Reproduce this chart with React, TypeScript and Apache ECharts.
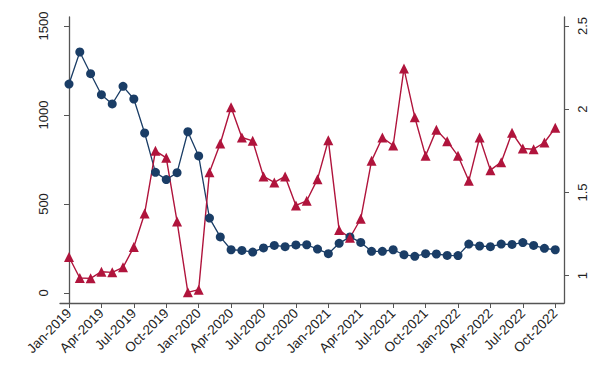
import React, { useEffect, useRef } from "react";
import * as echarts from "echarts";

const months: string[] = [
  "Jan-2019","Feb-2019","Mar-2019","Apr-2019","May-2019","Jun-2019","Jul-2019","Aug-2019","Sep-2019","Oct-2019","Nov-2019","Dec-2019",
  "Jan-2020","Feb-2020","Mar-2020","Apr-2020","May-2020","Jun-2020","Jul-2020","Aug-2020","Sep-2020","Oct-2020","Nov-2020","Dec-2020",
  "Jan-2021","Feb-2021","Mar-2021","Apr-2021","May-2021","Jun-2021","Jul-2021","Aug-2021","Sep-2021","Oct-2021","Nov-2021","Dec-2021",
  "Jan-2022","Feb-2022","Mar-2022","Apr-2022","May-2022","Jun-2022","Jul-2022","Aug-2022","Sep-2022","Oct-2022",
];

// Left axis series (circles)
const blueValues: number[] = [
  1174, 1354, 1232, 1114, 1062, 1161, 1090, 899, 678, 637, 676, 906,
  770, 421, 315, 243, 239, 230, 253, 267, 260, 270, 271, 247,
  221, 279, 315, 284, 234, 234, 243, 215, 206, 221, 219, 211,
  210, 275, 264, 260, 275, 273, 283, 267, 251, 243,
];

// Right axis series (triangles)
const redValues: number[] = [
  1.112, 0.986, 0.984, 1.024, 1.02, 1.05, 1.172, 1.374, 1.75, 1.708, 1.326, 0.9,
  0.916, 1.622, 1.794, 2.012, 1.83, 1.81, 1.596, 1.56, 1.596, 1.422, 1.45, 1.58,
  1.814, 1.274, 1.228, 1.342, 1.69, 1.83, 1.782, 2.244, 1.952, 1.72, 1.876, 1.808,
  1.72, 1.57, 1.83, 1.634, 1.682, 1.858, 1.764, 1.76, 1.8, 1.888,
];

const leftTicks: number[] = [0, 500, 1000, 1500];
const rightTicks: number[] = [1, 1.5, 2, 2.5];
const xTickIdx: number[] = months.map((_, i) => i).filter((i) => i % 3 === 0);

const BLUE = "#1a3d66";
const RED = "#b0143c";
const AXIS = "#555555";
const FONT = "Liberation Sans, Arial, sans-serif";

export default function App() {
  const ref = useRef<HTMLDivElement>(null);
  useEffect(() => {
    if (!ref.current) return;
    const chart = echarts.init(ref.current, undefined, { renderer: "svg" });
    const axisLabelBase = { color: "#222", fontFamily: FONT, fontSize: 13 };
    const plain = (v: number) => String(Math.round(v * 100) / 100);
    chart.setOption({
      animation: false,
      backgroundColor: "#ffffff",
      grid: { left: 60, right: 36, top: 17, bottom: 67 },
      xAxis: {
        type: "value",
        min: -0.833,
        max: 45.81,
        axisLine: { show: true, onZero: false, lineStyle: { color: AXIS, width: 1.3 } },
        axisTick: { show: true, length: 5, customValues: xTickIdx, lineStyle: { color: AXIS } },
        axisLabel: {
          ...axisLabelBase,
          fontSize: 13.5,
          rotate: 45,
          margin: 8,
          customValues: xTickIdx,
          formatter: (v: number) => months[Math.round(v)] ?? "",
        },
        splitLine: { show: false },
      },
      yAxis: [
        {
          type: "value",
          position: "left",
          min: -56.2,
          max: 1550.6,
          axisLine: { show: true, lineStyle: { color: AXIS, width: 1.3 } },
          axisTick: { show: true, length: 5, customValues: leftTicks, lineStyle: { color: AXIS } },
          axisLabel: { ...axisLabelBase, rotate: 90, margin: 10, customValues: leftTicks, formatter: plain },
          splitLine: { show: false },
        },
        {
          type: "value",
          position: "right",
          min: 0.836,
          max: 2.554,
          axisLine: { show: true, lineStyle: { color: AXIS, width: 1.3 } },
          axisTick: { show: true, length: 5, customValues: rightTicks, lineStyle: { color: AXIS } },
          axisLabel: { ...axisLabelBase, rotate: 90, margin: 12, customValues: rightTicks, formatter: plain },
          splitLine: { show: false },
        },
      ],
      series: [
        {
          type: "line",
          yAxisIndex: 0,
          data: blueValues.map((v, i) => [i, v]),
          symbol: "circle",
          symbolSize: 9,
          itemStyle: { color: BLUE },
          lineStyle: { color: BLUE, width: 1.3 },
        },
        {
          type: "line",
          yAxisIndex: 1,
          data: redValues.map((v, i) => [i, v]),
          symbol: "triangle",
          symbolSize: 10,
          itemStyle: { color: RED },
          lineStyle: { color: RED, width: 1.4 },
        },
      ],
    });
    return () => chart.dispose();
  }, []);
  return (
    <div
      ref={ref}
      style={{ position: "fixed", left: 0, top: 0, width: 600, height: 370, background: "#fff" }}
    />
  );
}
